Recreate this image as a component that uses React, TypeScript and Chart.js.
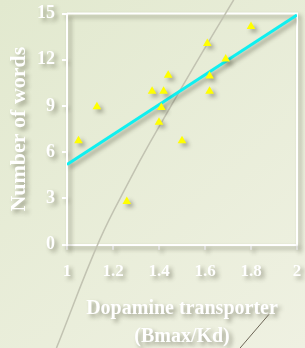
import React, { useEffect, useRef } from "react";
import { Chart, registerables } from "chart.js";

Chart.register(...registerables);

// Data points (Dopamine transporter Bmax/Kd vs Number of words)
const pointX = [1.05, 1.13, 1.26, 1.37, 1.4, 1.41, 1.42, 1.44, 1.5, 1.61, 1.62, 1.62, 1.69, 1.8];
const pointY = [6.75, 8.95, 2.8, 9.95, 7.95, 8.9, 9.95, 11.0, 6.75, 13.05, 10.95, 9.95, 12.05, 14.15];

// Regression line
const fitX = [1, 2];
const fitY = [5.2, 14.9];

// Background decoration strokes (in data units)
const curveX = [0.954, 1.142, 1.273, 1.36, 1.569, 1.725];
const curveY = [-6.71, 0.31, 4.2, 6.6, 11.99, 15.89];
const darkX = [1.751, 1.878];
const darkY = [-6.73, -4.52];

const xTickLabels = ["1", "1.2", "1.4", "1.6", "1.8", "2"];
const yTickLabels = ["0", "3", "6", "9", "12", "15"];

const FONT = "'Liberation Serif', 'Times New Roman', serif";
const zip = (xs: number[], ys: number[]) => xs.map((x, i) => ({ x, y: ys[i] }));

const decoPlugin = {
  id: "deco",
  beforeDraw(chart: any) {
    const { ctx, width, height } = chart;
    ctx.save();
    const g = ctx.createLinearGradient(0, 0, width, height);
    g.addColorStop(0, "#e2e9cf");
    g.addColorStop(1, "#eff1e2");
    ctx.fillStyle = g;
    ctx.fillRect(0, 0, width, height);
    ctx.restore();
    ctx.shadowColor = "rgba(60,60,40,0.45)";
    ctx.shadowBlur = 4;
    ctx.shadowOffsetX = 3;
    ctx.shadowOffsetY = 3;
  },
  beforeDatasetsDraw(chart: any) {
    const { ctx, chartArea } = chart;
    ctx.save();
    ctx.strokeStyle = "#ffffff";
    ctx.lineWidth = 2;
    ctx.beginPath();
    ctx.moveTo(chartArea.left, chartArea.top);
    ctx.lineTo(chartArea.right, chartArea.top);
    ctx.lineTo(chartArea.right, chartArea.bottom);
    ctx.stroke();
    ctx.restore();
  },
  beforeDatasetDraw(chart: any, args: any) {
    if (args.index >= 2) {
      chart.ctx.save();
      chart.ctx.shadowColor = "rgba(0,0,0,0)";
    }
  },
  afterDatasetDraw(chart: any, args: any) {
    if (args.index >= 2) chart.ctx.restore();
  },
  afterDraw(chart: any) {
    const ctx = chart.ctx;
    ctx.shadowColor = "rgba(0,0,0,0)";
    ctx.shadowBlur = 0;
    ctx.shadowOffsetX = 0;
    ctx.shadowOffsetY = 0;
  },
};

const clearPad = (s: any) => {
  s.paddingTop = 0;
  s.paddingBottom = 0;
  s.paddingLeft = 0;
  s.paddingRight = 0;
};

export default function App() {
  const ref = useRef<HTMLCanvasElement>(null);
  useEffect(() => {
    document.body.style.margin = "0";
    const canvas = ref.current;
    if (!canvas) return;
    const chart = new Chart(canvas, {
      type: "scatter",
      data: {
        datasets: [
          {
            data: zip(pointX, pointY),
            pointStyle: "triangle",
            pointRadius: 5,
            backgroundColor: "#ffff00",
            borderColor: "#ffff00",
            borderWidth: 0,
          },
          {
            data: zip(fitX, fitY),
            showLine: true,
            borderColor: "#0ff0f0",
            borderWidth: 3,
            pointRadius: 0,
          },
          {
            data: zip(curveX, curveY),
            showLine: true,
            borderColor: "#c2c3b2",
            borderWidth: 1.5,
            pointRadius: 0,
            tension: 0.4,
            clip: false,
          },
          {
            data: zip(darkX, darkY),
            showLine: true,
            borderColor: "#6b6455",
            borderWidth: 1,
            pointRadius: 0,
            clip: false,
          },
        ] as any,
      },
      plugins: [decoPlugin],
      options: {
        animation: false,
        responsive: false,
        devicePixelRatio: 1,
        layout: { padding: { top: 13.5, right: 8, left: 0, bottom: 0 } },
        plugins: { legend: { display: false }, tooltip: { enabled: false } },
        scales: {
          x: {
            type: "linear",
            min: 1,
            max: 2,
            afterFit: (s: any) => {
              s.height = 103.3;
              clearPad(s);
            },
            ticks: {
              stepSize: 0.2,
              autoSkip: false,
              maxRotation: 0,
              color: "#ffffff",
              padding: 12,
              font: { family: FONT, size: 17, weight: "bold" },
              callback: (_v: any, i: number) => xTickLabels[i] ?? "",
            },
            grid: { display: true, drawOnChartArea: false, drawTicks: true, tickLength: 5, color: "#ffffff", lineWidth: 2 },
            border: { display: true, color: "#ffffff", width: 2 },
            title: {
              display: true,
              text: ["Dopamine transporter", "(Bmax/Kd)"],
              color: "#ffffff",
              font: { family: FONT, size: 20, weight: "bold", lineHeight: 1.4 },
              padding: { top: 0, bottom: -3 },
            },
          },
          y: {
            type: "linear",
            min: 0,
            max: 15,
            afterFit: (s: any) => {
              s.width = 67;
              clearPad(s);
            },
            ticks: {
              stepSize: 3,
              color: "#ffffff",
              padding: 7,
              font: { family: FONT, size: 18, weight: "bold" },
              callback: (_v: any, i: number) => yTickLabels[i] ?? "",
            },
            grid: { display: true, drawOnChartArea: false, drawTicks: true, tickLength: 5, color: "#ffffff", lineWidth: 2 },
            border: { display: true, color: "#ffffff", width: 2 },
            title: {
              display: true,
              text: "Number of words",
              color: "#ffffff",
              font: { family: FONT, size: 22, weight: "bold", lineHeight: 1.2 },
              padding: { top: 6, bottom: 0 },
            },
          },
        },
      } as any,
    });
    return () => chart.destroy();
  }, []);
  return <canvas ref={ref} width={305} height={348} style={{ display: "block" }} />;
}
